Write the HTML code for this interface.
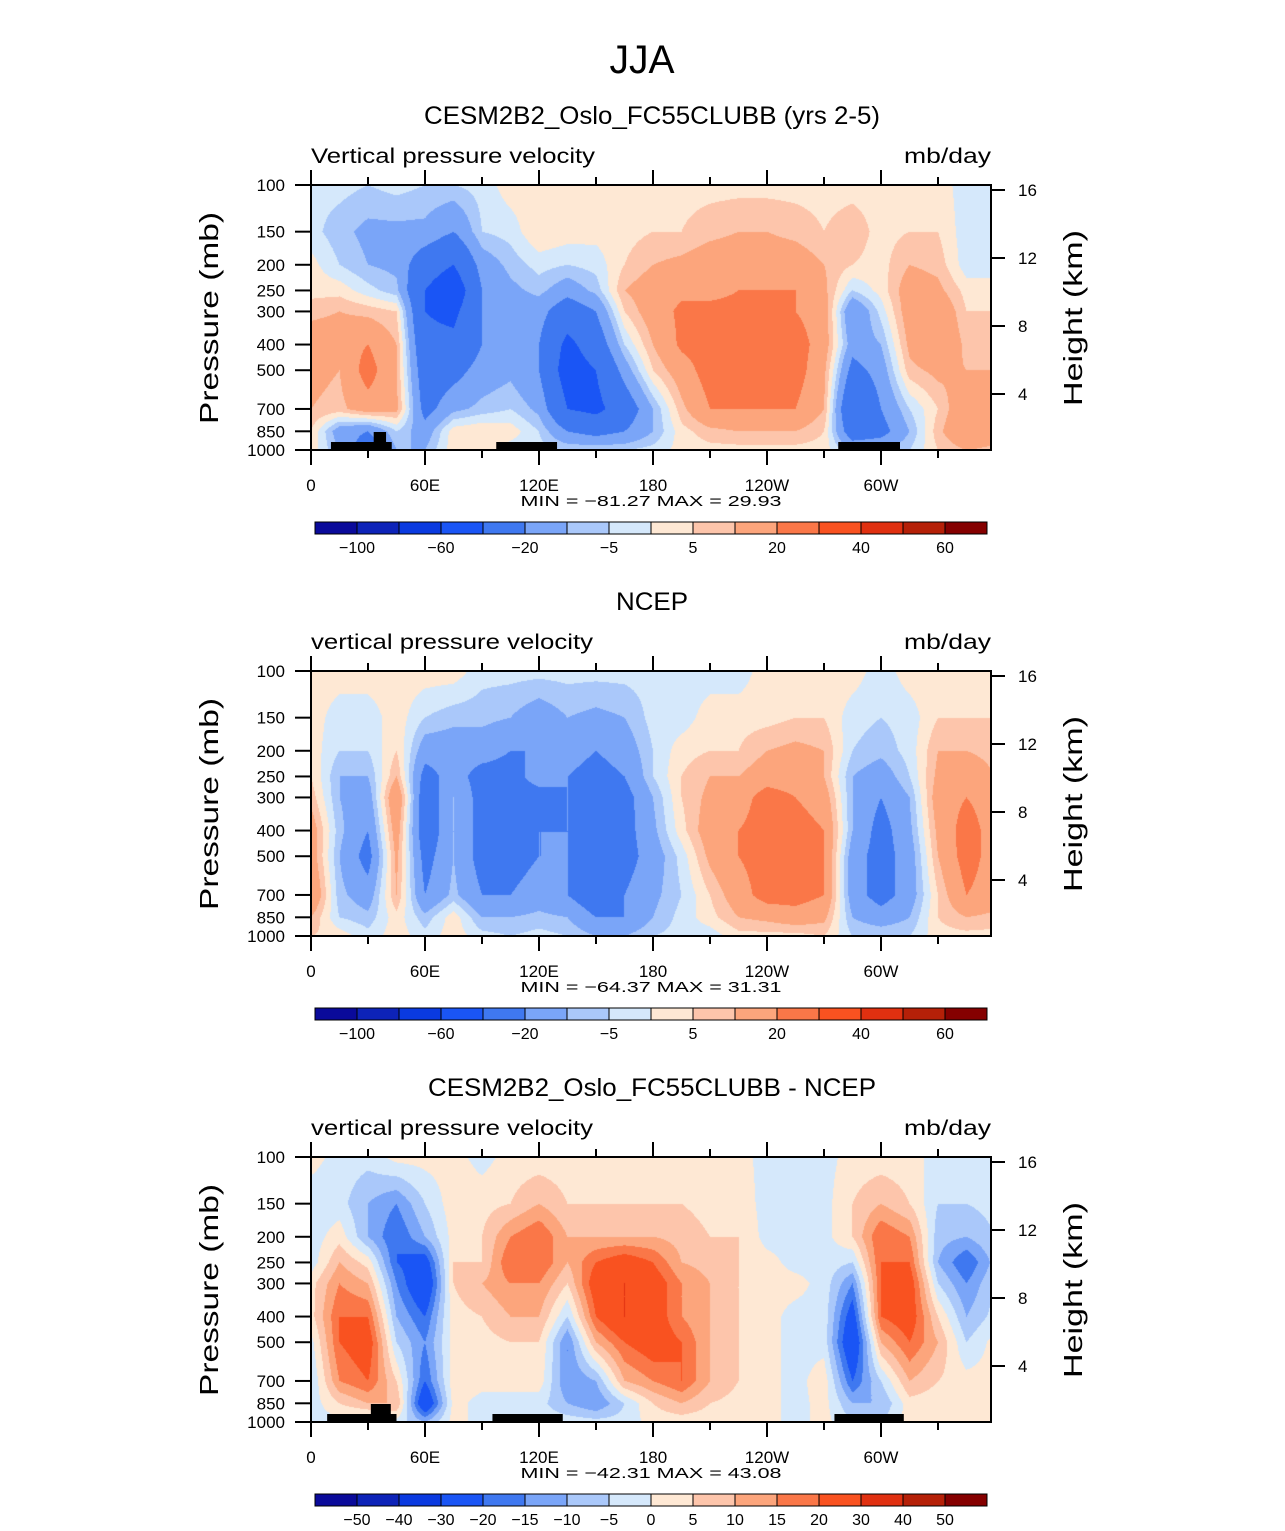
<!DOCTYPE html>
<html><head><meta charset="utf-8">
<style>
html,body{margin:0;padding:0;background:#fff;}
body{width:1285px;height:1531px;position:relative;overflow:hidden;font-family:"Liberation Sans",sans-serif;}
canvas{position:absolute;}
svg{position:absolute;left:0;top:0;white-space:pre;}
</style></head>
<body>
<canvas id="c0" width="680" height="265" style="left:311px;top:185px"></canvas>
<canvas id="c1" width="680" height="265" style="left:311px;top:671px"></canvas>
<canvas id="c2" width="680" height="265" style="left:311px;top:1157px"></canvas>
<svg id="s" width="1285" height="1531"></svg>
<script>
const pressures=[100,150,200,250,300,400,500,700,850,1000];
const lonNodes=[0,15,30,45,60,75,90,105,120,135,150,165,180,195,210,225,240,255,270,285,300,315,330,345,360];
const levelsAbs=[-100,-80,-60,-40,-20,-10,-5,0,5,10,20,30,40,50,60];
const levelsDiff=[-50,-40,-30,-20,-15,-10,-5,0,5,10,15,20,30,40,50];
const labelsAbs=["−100","","−60","","−20","","−5","","5","","20","","40","","60"];
const labelsDiff=["−50","−40","−30","−20","−15","−10","−5","0","5","10","15","20","30","40","50"];
const colors=["#0a0a9a","#0d23b8","#0a3ae0","#1a55f5","#3f78f0","#7aa5f8","#aac8fa","#d5e8fb","#fee8d4","#fdc5ab","#fca57c","#fa7748","#f95220","#e03010","#b52008","#850000"];
const xTickLons=[0,60,120,180,240,300];
const xTickLabels=["0","60E","120E","180","120W","60W"];
const pTickLabels=[100,150,200,250,300,400,500,700,850,1000];
const hTicks=[16,12,8,4];
const model=[
[-3,-3,2,3,8,15,12,10,5,3],
[-3,-8,-5,3,10,15,10,8,-15,-10],
[-5,-12,-10,-3,8,20,25,15,-20,-30],
[-3,-12,-12,-8,5,10,10,12,-5,-10],
[-5,-12,-30,-40,-40,-35,-30,-25,-15,-10],
[-5,-20,-40,-55,-45,-35,-25,-12,3,3],
[-3,-5,-15,-20,-20,-20,-15,-8,5,3],
[3,-3,-8,-12,-15,-15,-12,-5,3,-3],
[3,5,-3,-8,-15,-20,-20,-12,-5,-3],
[3,3,-5,-15,-30,-45,-50,-40,-20,-5],
[3,2,-3,-8,-20,-30,-40,-45,-25,-5],
[3,3,5,10,5,-5,-15,-30,-20,-5],
[3,5,10,15,15,10,5,-10,-10,-3],
[3,5,12,18,22,22,15,8,3,2],
[3,8,15,18,22,25,25,20,8,3],
[3,10,15,20,22,25,25,20,10,3],
[3,10,15,20,22,25,25,20,10,3],
[3,8,15,20,20,25,25,20,10,3],
[3,5,10,12,15,15,12,10,5,3],
[3,8,5,-5,-20,-15,-25,-40,-30,-10],
[3,3,3,2,-3,-10,-15,-20,-25,-10],
[3,5,10,15,15,12,8,-5,-10,-5],
[3,5,8,12,18,20,12,5,8,5],
[-3,-3,-3,3,5,8,10,18,20,10],
[-3,-3,-3,3,5,8,10,15,15,8]];
const ncep=[
[3,3,3,5,8,15,15,20,10,5],
[3,-3,-5,-10,-10,-8,-10,-8,-5,3],
[3,-3,-5,-10,-15,-20,-25,-15,-8,-3],
[3,3,5,10,20,15,12,10,3,3],
[3,-5,-15,-25,-30,-30,-25,-20,-8,-3],
[3,-8,-15,-15,-10,-10,-10,-8,3,3],
[-3,-8,-15,-25,-25,-25,-25,-20,-10,-3],
[-3,-10,-20,-25,-25,-25,-25,-20,-10,-5],
[-3,-15,-20,-15,-25,-20,-20,-15,-8,-3],
[-3,-10,-15,-20,-20,-20,-20,-20,-10,-5],
[-3,-12,-20,-25,-30,-40,-40,-30,-20,-10],
[-3,-10,-15,-20,-25,-25,-25,-20,-20,-10],
[-3,-3,-5,-5,-10,-12,-15,-12,-10,-5],
[-3,-3,3,5,5,3,-3,-5,-3,-3],
[-3,3,5,10,12,15,12,5,3,-3],
[-3,3,5,10,15,20,20,15,10,3],
[3,3,10,15,25,25,25,25,12,3],
[3,5,12,15,20,25,25,25,15,3],
[3,5,10,10,15,20,20,20,12,5],
[3,-3,-5,-10,-10,-10,-15,-15,-10,-5],
[-3,-5,-8,-15,-20,-25,-25,-25,-15,-5],
[3,-3,-3,-5,-10,-12,-15,-15,-10,-5],
[3,5,10,12,15,12,10,5,5,3],
[3,5,10,15,20,25,25,20,10,3],
[3,5,8,10,15,15,15,15,8,3]];
const diff=[
[2,-3,-3,-3,3,3,-2,-5,-3,-2],
[-2,-3,3,10,15,20,20,15,5,-2],
[-3,-10,-10,3,10,20,25,20,10,-5],
[2,-15,-20,-20,-15,-10,-5,5,10,-2],
[2,-5,-10,-25,-30,-20,-15,-20,-30,-10],
[2,3,2,5,5,3,2,3,2,2],
[-2,3,5,5,10,5,3,2,-2,-2],
[2,5,15,20,15,10,5,3,-3,-2],
[2,10,20,20,15,10,5,3,-3,-2],
[2,5,10,10,5,-5,-15,-15,-10,-2],
[2,5,10,20,25,20,10,-10,-15,-3],
[2,5,10,25,30,30,20,10,-5,-3],
[2,5,10,20,25,25,25,15,5,2],
[2,5,8,10,15,15,20,20,10,2],
[2,3,5,8,10,10,10,10,5,2],
[2,3,5,5,5,5,5,5,3,2],
[-2,-2,-2,2,2,2,2,2,2,2],
[-2,-2,-2,-2,2,-2,-2,-2,-2,-2],
[-2,-2,-2,-2,-2,-2,-2,3,2,2],
[2,5,5,-5,-15,-25,-30,-20,-10,-5],
[2,10,20,20,20,20,10,-5,-10,-5],
[2,5,15,20,25,25,20,10,3,2],
[-2,-5,-8,-10,-5,5,10,5,2,2],
[-2,-5,-10,-20,-15,-10,-5,2,5,3],
[-2,-3,-5,-8,-5,-3,2,2,3,2]];

const W=680,H=265,PX_PER_DEG=1.9;
function yOfP(p){return (Math.log10(p)-2)*H;}
function yOfH(h){return 5+(16-h)*17;}
function colorIdx(v,lev){let i=0;while(i<lev.length&&v>=lev[i])i++;return i;}
function hexRgb(h){return [parseInt(h.slice(1,3),16),parseInt(h.slice(3,5),16),parseInt(h.slice(5,7),16)];}
const rgb=colors.map(hexRgb);
const logP=pressures.map(p=>Math.log10(p));
function drawField(id,data,lev){
  const ctx=document.getElementById(id).getContext('2d');
  const img=ctx.createImageData(W,H);
  for(let py=0;py<H;py++){
    const lp=2+(py+0.5)/H;
    let j=0;while(j<logP.length-2&&lp>logP[j+1])j++;
    let ty=(lp-logP[j])/(logP[j+1]-logP[j]);ty=Math.max(0,Math.min(1,ty));
    for(let px=0;px<W;px++){
      const lon=(px+0.5)/PX_PER_DEG;
      let i=Math.min(Math.floor(lon/15),lonNodes.length-2);
      const tx=(lon-lonNodes[i])/15;
      const a=data[i][j]*(1-ty)+data[i][j+1]*ty;
      const b=data[i+1][j]*(1-ty)+data[i+1][j+1]*ty;
      const v=a*(1-tx)+b*tx;
      const c=rgb[colorIdx(v,lev)];
      const k=(py*W+px)*4;
      img.data[k]=c[0];img.data[k+1]=c[1];img.data[k+2]=c[2];img.data[k+3]=255;
    }
  }
  ctx.putImageData(img,0,0);
}
drawField('c0',model,levelsAbs);
drawField('c1',ncep,levelsAbs);
drawField('c2',diff,levelsDiff);

const svg=document.getElementById('s');
const NS='http://www.w3.org/2000/svg';
function el(tag,attrs,parent){const e=document.createElementNS(NS,tag);for(const k in attrs)e.setAttribute(k,attrs[k]);(parent||svg).appendChild(e);return e;}
function txt(s,x,y,size,anchor,name,extra,len){const t=el('text',Object.assign({x:x,y:y,'font-size':size,'text-anchor':anchor||'start','font-family':'Liberation Sans, sans-serif',fill:'#000'},extra||{}));t.textContent=s;
if(len){t.setAttribute('textLength',len);t.setAttribute('lengthAdjust','spacingAndGlyphs');}


return t;}

txt('JJA',642,73,40,'middle','main-title',{'font-weight':'300'},65);
const panels=[
 {top:185,title:'CESM2B2_Oslo_FC55CLUBB (yrs 2-5)',tl:456,sub:'Vertical pressure velocity',sl:284,minmax:'MIN = −81.27   MAX =   29.93',lev:labelsAbs,
  land:[[10.5,42.5,442],[33,39.5,432],[97.5,129.5,442],[277.5,310,442]]},
 {top:671,title:'NCEP',tl:72,sub:'vertical pressure velocity',sl:282,minmax:'MIN = −64.37   MAX =   31.31',lev:labelsAbs,land:[]},
 {top:1157,title:'CESM2B2_Oslo_FC55CLUBB - NCEP',tl:448,sub:'vertical pressure velocity',sl:282,minmax:'MIN = −42.31   MAX =   43.08',lev:labelsDiff,
  land:[[8.5,45,1414],[31.5,42,1404],[95.5,132.5,1414],[275.5,312,1414]]}
];
panels.forEach((P,pi)=>{
  const T=P.top,L=311,R=991,B=T+H;
  txt(P.title,652,T-61,25,'middle','panel-title-'+(pi+1),{},P.tl);
  txt(P.sub,311,T-22,21,'start','field-label-'+(pi+1),{},P.sl);
  txt('mb/day',991,T-22,21,'end','units-label-'+(pi+1),{},87);
  P.land.forEach(d=>{
    const r=el('rect',{x:L+d[0]*PX_PER_DEG,y:d[2],width:(d[1]-d[0])*PX_PER_DEG,height:B-d[2],fill:'#000'});
    
    
  });
  const box=el('rect',{x:L,y:T,width:W,height:H,fill:'none',stroke:'#000','stroke-width':2});
  
  
  for(let lon=0;lon<=330;lon+=30){
    const x=L+lon*PX_PER_DEG,major=lon%60===0,len=major?15:8;
    el('line',{x1:x,y1:T,x2:x,y2:T-len,stroke:'#000','stroke-width':2});
    el('line',{x1:x,y1:B,x2:x,y2:B+len,stroke:'#000','stroke-width':2});
  }
  xTickLons.forEach((lon,k)=>{txt(xTickLabels[k],L+lon*PX_PER_DEG,B+41,17,'middle','x-tick-label');});
  txt(P.minmax,651,B+56,15,'middle','min-max-label',{},261);
  pTickLabels.forEach(p=>{const y=T+yOfP(p);
    el('line',{x1:L,y1:y,x2:L-16,y2:y,stroke:'#000','stroke-width':2});
    txt(String(p),285,y+6,17,'end','y-tick-label');});
  hTicks.forEach(h=>{const y=T+yOfH(h);
    el('line',{x1:R,y1:y,x2:R+14,y2:y,stroke:'#000','stroke-width':2});
    txt(String(h),1018,y+6,17,'start','right-tick-label');});
  txt('Pressure (mb)',218,T+133,26,'middle','y-axis-title',{transform:'rotate(-90 218 '+(T+133)+')'},212);
  txt('Height (km)',1082,T+133,26,'middle','right-axis-title',{transform:'rotate(-90 1082 '+(T+133)+')'},176);
  const cy=T+337;
  colors.forEach((c,k)=>{
    const r=el('rect',{x:315+k*42,y:cy,width:42,height:12,fill:c,stroke:'#000','stroke-width':1});
    
    
  });
  P.lev.forEach((s,k)=>{if(s)txt(s,357+k*42,cy+31,16,'middle','colorbar-label');});
});
</script>
</body></html>
